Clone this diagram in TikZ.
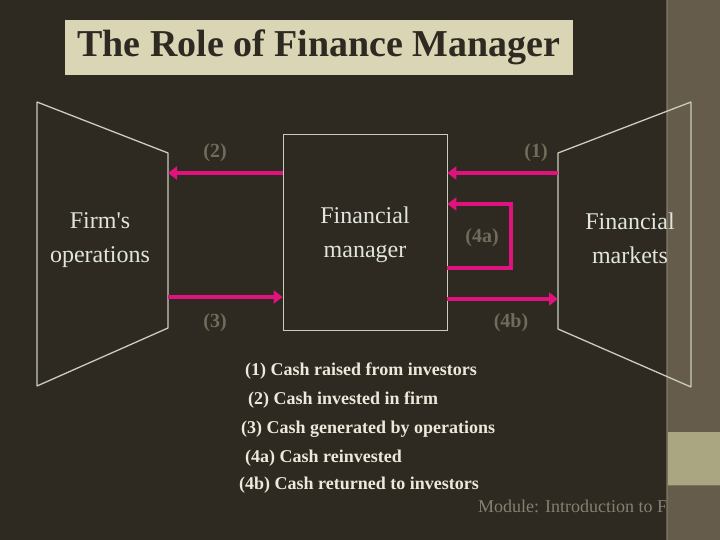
\documentclass[tikz,border=0pt]{standalone}
\usepackage{fontspec}
\setmainfont{Liberation Serif}
\usetikzlibrary{arrows.meta,positioning}

\definecolor{bgdark}{HTML}{2E2A22}
\definecolor{stripbrown}{HTML}{655C4B}
\definecolor{stripline}{HTML}{7A725F}
\definecolor{bandtan}{HTML}{ABA682}
\definecolor{titlebg}{HTML}{DAD6B5}
\definecolor{edgegray}{HTML}{C9CDBE}
\definecolor{flowpink}{HTML}{E0137E}
\definecolor{tagtext}{HTML}{716B5A}
\definecolor{legendtext}{HTML}{EDE9DA}
\definecolor{boxtext}{HTML}{E2E5DD}
\definecolor{foottext}{HTML}{858070}

\tikzset{
  flow/.style={line width=4pt, draw=flowpink, -{Triangle[length=9pt,width=13pt]}},
  tag/.style={text=tagtext, font=\fontsize{20}{20}\selectfont\bfseries},
  side/.style={draw=edgegray, line width=1.3pt, line join=bevel},
  blocktext/.style={text=boxtext, align=center, font=\fontsize{24}{34}\selectfont},
  legend/.style={anchor=base west, text=legendtext, font=\fontsize{18}{18}\selectfont\bfseries, inner sep=0pt}
}

\begin{document}
\begin{tikzpicture}[x=1pt,y=-1pt]
	% background
	\fill[bgdark] (0,0) rectangle (720,540);
	\useasboundingbox (0,0) rectangle (720,540);
	
	% footer, cut by the strip
	\node[anchor=base west, text=foottext, font=\fontsize{18}{18}\selectfont, inner sep=0pt] (foot) at (478,512) {Module: Introduction to F};
	
	% right strip
	\fill[stripbrown] (666,0) rectangle (720,540);
	\fill[bandtan] (667,432) rectangle (720,485);
	\draw[stripline, line width=1pt] (667,0) -- (667,540);
	\draw[stripline, line width=1pt] (667,485.5) -- (720,485.5);
	
	% title
	\node[fill=titlebg, minimum width=508, minimum height=55, inner sep=0pt, text=bgdark, font=\fontsize{38}{38}\selectfont\bfseries] (title) at (319,47.5) {The Role of Finance Manager};
	
	% left side
	\draw[side] (37,102) -- (168,153) -- (168,328) -- (37,386) -- cycle;
	\node[blocktext] (ops) at (100,240) {Firm\textquotesingle s\\operations};
	
	% right side
	\draw[side] (691,102) -- (558,153) -- (558,329) -- (691,387) -- cycle;
	\node[blocktext] (mkt) at (630,238) {Financial\\markets};
	
	% middle box
	\node[draw=edgegray, line width=0.8pt, minimum width=164, minimum height=196, inner sep=0pt] (fm) at (365,232) {};
	\node[blocktext] (fmlabel) at ([yshift=-2.5pt]fm.center) {Financial\\manager};
	
	% ends of the flows
	\coordinate (opsIn) at (168,173);
	\coordinate (opsOut) at (168,297);
	\coordinate (mktOut) at (558,173);
	\coordinate (mktIn) at (558,299);
	\coordinate (loopR) at (511,204);
	
	% flows
	\draw[flow] (mktOut) -- (fm.east |- mktOut);
	\draw[flow] (fm.west |- opsIn) -- (opsIn);
	\draw[flow] (opsOut) -- (fm.west |- opsOut);
	\draw[flow] (fm.east |- 0,268) -- (loopR |- 0,268) -- (loopR) -- (fm.east |- loopR);
	\draw[flow] (fm.east |- mktIn) -- (mktIn);
	
	% flow tags
	\node[tag] (t1) at (536,153) {(1)};
	\node[tag] (t2) at (215,153) {(2)};
	\node[tag] (t3) at (215,323) {(3)};
	\node[tag] (t4a) at (482,238) {(4a)};
	\node[tag] (t4b) at (511,323) {(4b)};
	
	% legend
	\node[legend] (l1) at (245,375) {(1) Cash raised from investors};
	\node[legend] (l2) at (248,404) {(2) Cash invested in firm};
	\node[legend] (l3) at (241,433) {(3) Cash generated by operations};
	\node[legend] (l4a) at (245,462) {(4a) Cash reinvested};
	\node[legend] (l4b) at (239,489) {(4b) Cash returned to investors};
\end{tikzpicture}
\end{document}
